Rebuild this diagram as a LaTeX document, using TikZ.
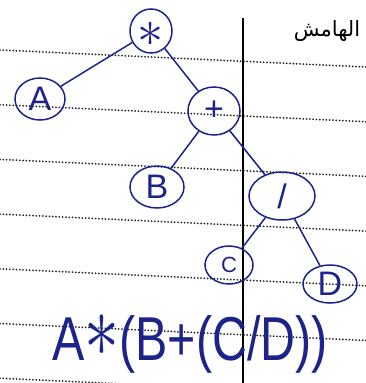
\documentclass[tikz,border=0pt]{standalone}
\usepackage{fontspec}
\setmainfont{Liberation Sans}
\newfontfamily\arabicfont[Script=Arabic]{DejaVu Sans}
\TeXXeTstate=1
\usetikzlibrary{shapes.geometric}
\definecolor{ink}{RGB}{28,36,140}

\begin{document}
\begin{tikzpicture}[
  x=1pt, y=-1pt,
  vert/.style={ellipse, draw=ink, line width=1.5pt, text=ink, inner sep=0pt,
               font=\fontsize{34}{34}\selectfont},
  edge/.style={draw=ink, line width=1.5pt},
  ruled/.style={black!85, line width=2pt, line cap=round, dash pattern=on 0pt off 3.3pt},
]
\useasboundingbox (0,0) rectangle (366,383);

%% Paper lines
\foreach \k in {0,...,6}
  \draw[ruled] (0,50+54.7*\k) -- (366,67+54.7*\k);
\draw[black, line width=1.2pt] (243,18) -- (243,383);
\node[font=\arabicfont\fontsize{21}{21}\selectfont] (margin) at (327,31) {\beginR الهامش\endR};

%% Nodes
\node[vert, minimum width=42pt, minimum height=44pt] (mul) at (151,31)
  {\raisebox{-15pt}[0pt][0pt]{\scalebox{2.1}{$\ast$}}};
\node[vert, minimum width=50pt, minimum height=42pt] (a)   at (40,99)   {A};
\node[vert, minimum width=52pt, minimum height=48pt] (add) at (214,111) {+};
\node[vert, minimum width=54pt, minimum height=42pt] (b)   at (157,187) {B};
\node[vert, minimum width=66pt, minimum height=48pt] (div) at (282,196) {/};
\node[vert, minimum width=48pt, minimum height=38pt,
      font=\fontsize{22}{22}\selectfont]             (c)   at (229,265) {C};
\node[vert, minimum width=54pt, minimum height=38pt] (d)   at (330,284) {D};

%% Edges
\draw[edge] (mul) -- (a);
\draw[edge] (mul) -- (add);
\draw[edge] (add) -- (b);
\draw[edge] (add) -- (div);
\draw[edge] (div) -- (c);
\draw[edge] (div) -- (d);

%% Expression
\node[text=ink, font=\fontsize{62}{62}\selectfont, xscale=0.78] (expr) at (190,344)
  {A\raisebox{4pt}{\scalebox{3.6}{$\ast$}}(B+(C/D))};

\end{tikzpicture}
\end{document}
